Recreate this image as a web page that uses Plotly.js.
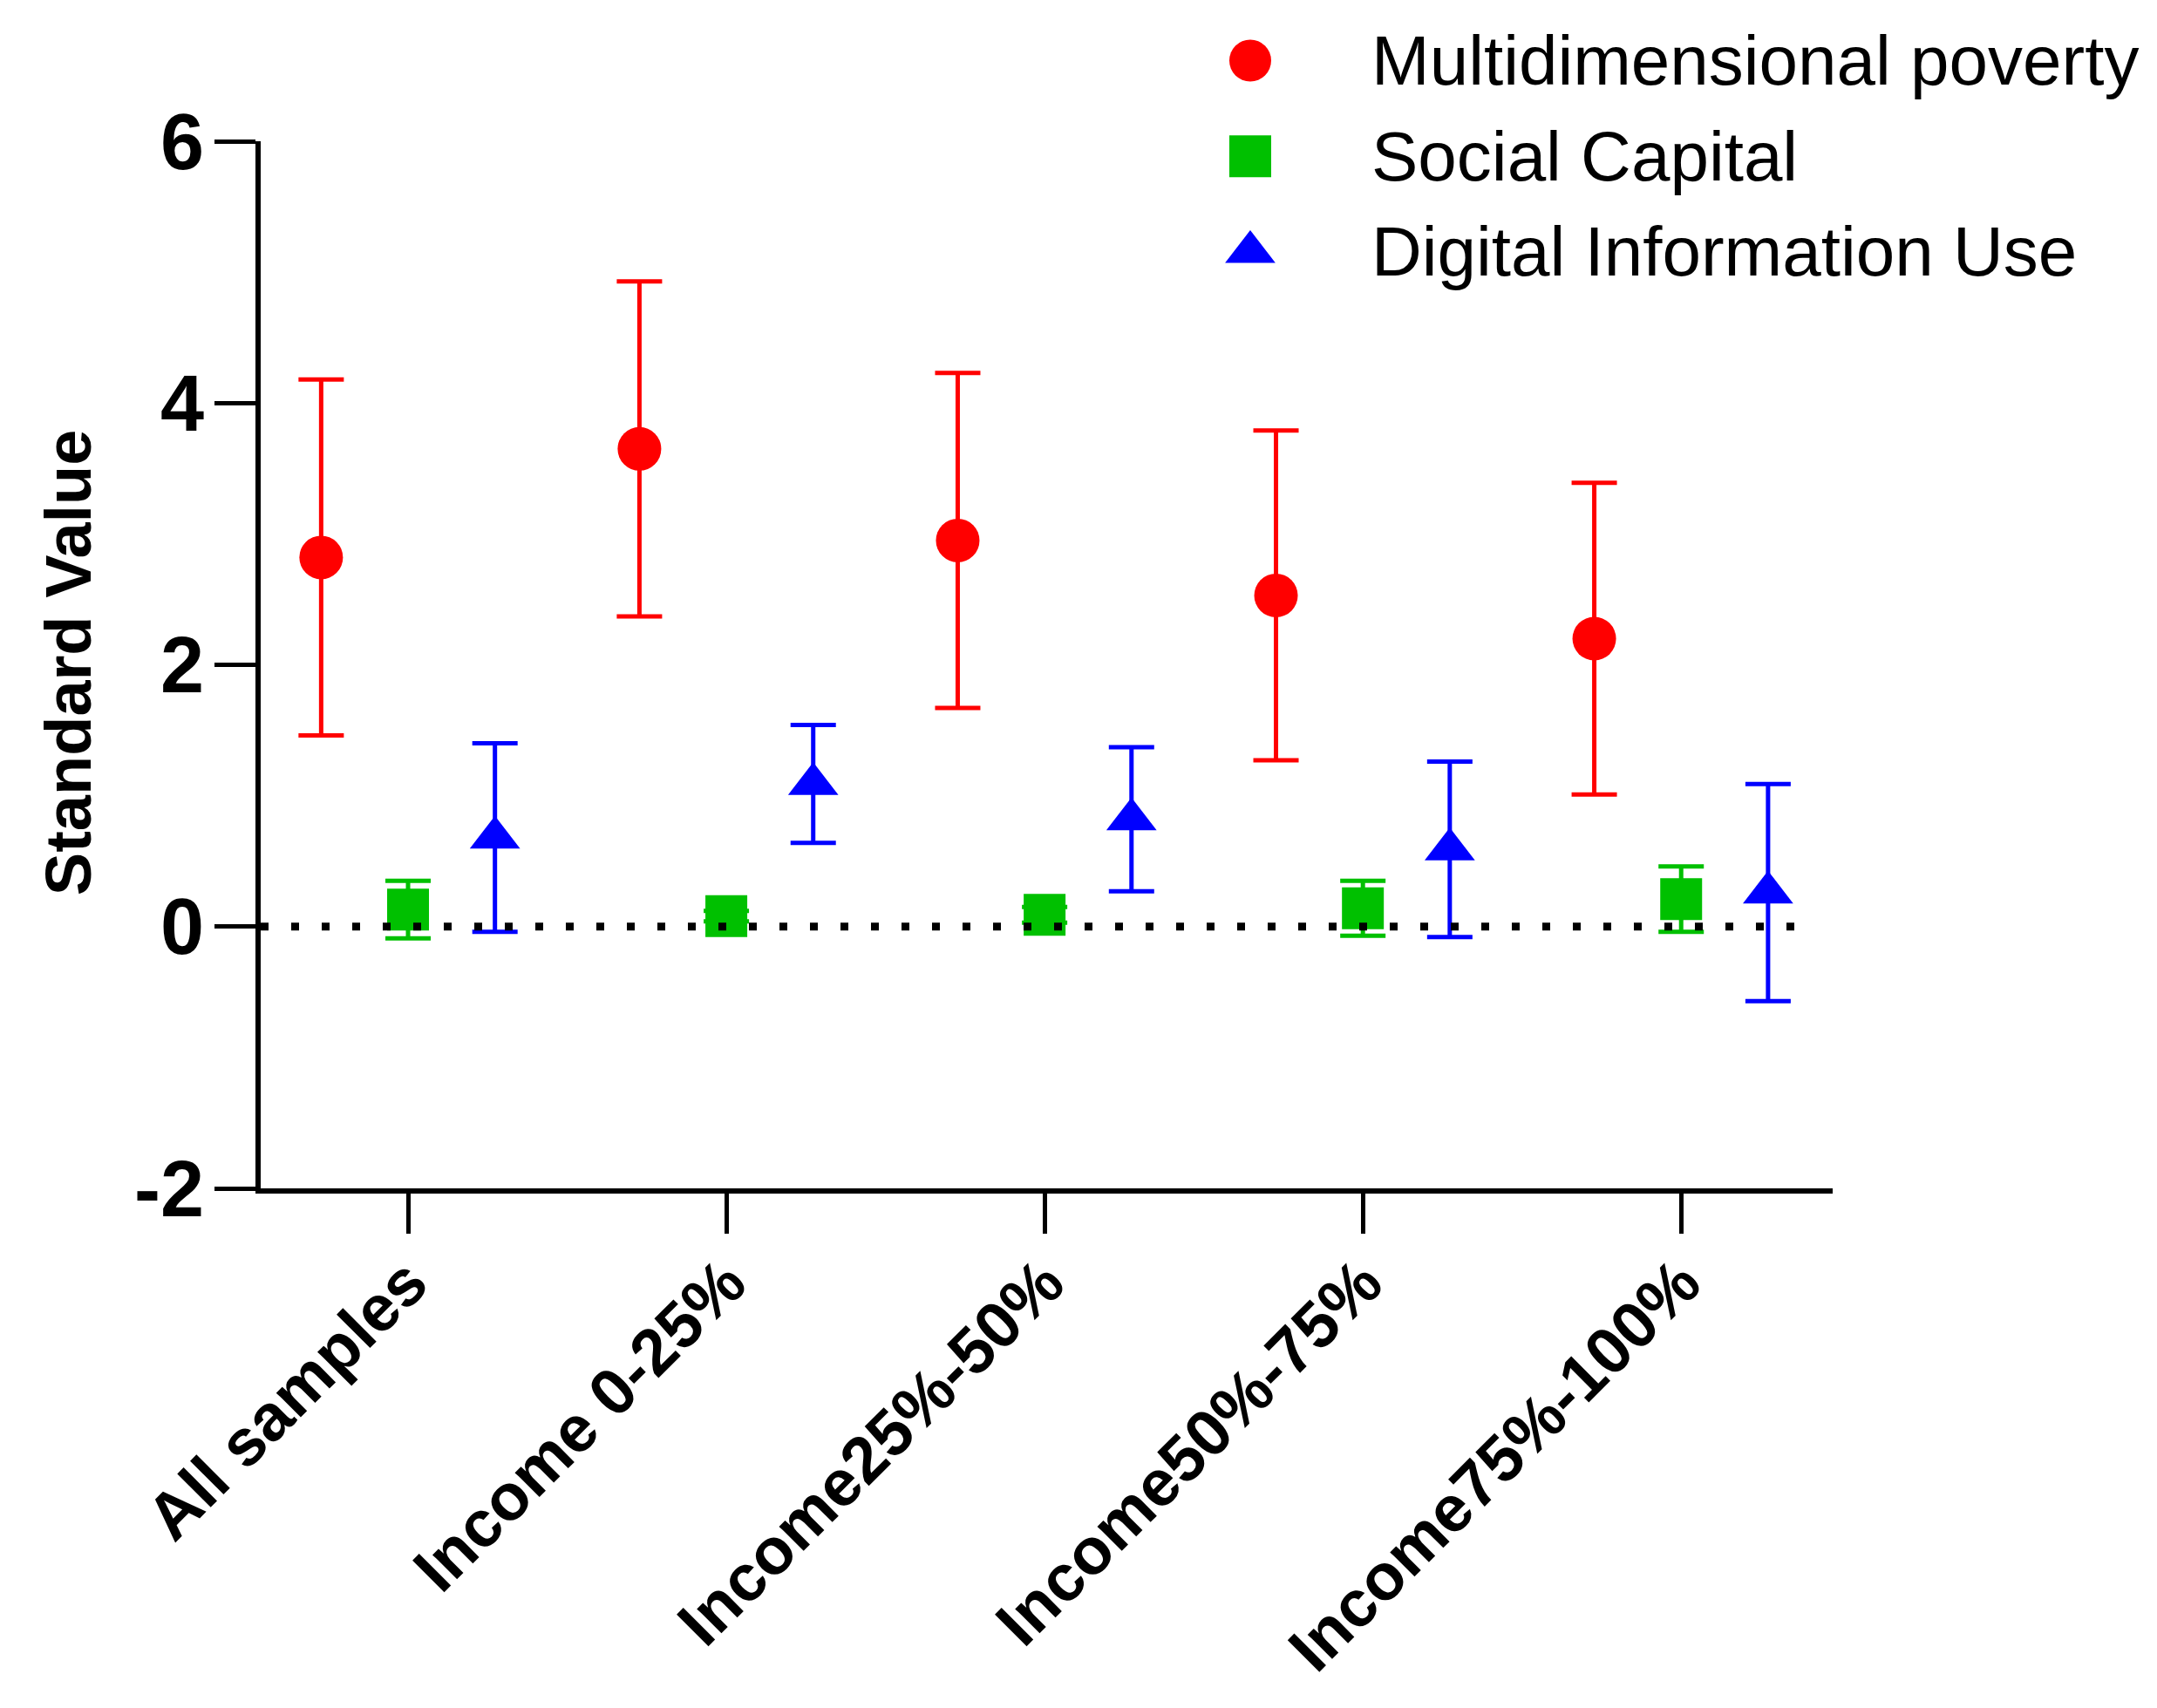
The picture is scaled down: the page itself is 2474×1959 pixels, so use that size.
<!DOCTYPE html>
<html>
<head>
<meta charset="utf-8">
<script src="https://cdn.plot.ly/plotly-3.0.1.min.js"></script>
<style>
  body { margin: 0; background: #fff; }
  #chart { width: 2474px; height: 1959px; }
</style>
</head>
<body>
<div id="chart"></div>
<script>
var categories = ["All samples", "Income 0-25%", "Income25%-50%", "Income50%-75%", "Income75%-100%"];

// means and half-widths of the error bars
var povertyMean = [2.82, 3.65, 2.95, 2.53, 2.20];
var povertyErr = [1.36, 1.28, 1.28, 1.26, 1.19];
var capitalMean = [0.13, 0.08, 0.09, 0.14, 0.21];
var capitalErr = [0.22, 0.04, 0.06, 0.21, 0.25];
var digitalMean = [0.68, 1.09, 0.82, 0.59, 0.26];
var digitalErr = [0.72, 0.45, 0.55, 0.67, 0.83];

var seriesNames = ["Multidimensional poverty", "Social Capital", "Digital Information Use"];
var yTicks = [-2, 0, 2, 4, 6];

var FONT = "Liberation Sans, Arial, sans-serif";
var colors = ["#FF0000", "#00C000", "#0000FF"];
var symbols = ["circle", "square", "triangle-up"];
var sizes = [50, 48, 50];
var offsets = [-0.273, 0, 0.273];

function makeTrace(k, mean, err) {
    return {
        x: categories.map(function(c, i) { return i + offsets[k]; }),
        y: mean,
        type: 'scatter',
        mode: 'markers',
        name: seriesNames[k],
        marker: {
            color: colors[k],
            symbol: symbols[k],
            size: sizes[k],
            opacity: 1,
            line: {width: 0}
        },
        error_y: {
            type: 'data',
            array: err,
            symmetric: true,
            color: colors[k],
            thickness: 5,
            width: 26
        },
        cliponaxis: false,
        showlegend: false,
        hoverinfo: 'skip'
    };
}

// hand-made legend so the symbols keep their real size
var legX = 0.6295, legTextX = 0.7055, legTop = 0.949, legStep = 0.0805;
var legendMarks = {
    x: seriesNames.map(function() { return legX; }),
    y: seriesNames.map(function(n, i) { return legTop - i * legStep; }),
    xaxis: 'x2',
    yaxis: 'y2',
    type: 'scatter',
    mode: 'markers',
    marker: {
        color: colors,
        symbol: symbols,
        size: [48, 48, 50],
        opacity: 1,
        line: {width: 0}
    },
    cliponaxis: false,
    showlegend: false,
    hoverinfo: 'skip'
};

var data = [
    makeTrace(0, povertyMean, povertyErr),
    makeTrace(1, capitalMean, capitalErr),
    makeTrace(2, digitalMean, digitalErr),
    legendMarks
];

var annotations = seriesNames.map(function(n, i) {
    return {
        text: n,
        xref: 'paper', yref: 'paper',
        x: legTextX, y: legTop - i * legStep,
        xanchor: 'left', yanchor: 'middle',
        showarrow: false,
        font: {family: FONT, size: 80, color: '#000'}
    };
});
annotations.push({
    text: "<b>Standard Value</b>",
    xref: 'paper', yref: 'paper',
    x: -0.1226, y: 0.443,
    xanchor: 'center', yanchor: 'middle',
    textangle: -90,
    showarrow: false,
    font: {family: FONT, size: 74, color: '#000'}
});

var layout = {
    width: 2474,
    height: 1959,
    margin: {l: 299, r: 372, t: 0, b: 596},
    paper_bgcolor: '#fff',
    plot_bgcolor: 'rgba(0,0,0,0)',
    showlegend: false,
    xaxis: {
        range: [-0.463, 4.476],
        tickvals: categories.map(function(c, i) { return i; }),
        ticktext: categories,
        tickangle: -45,
        ticks: 'outside',
        ticklen: 46,
        tickwidth: 5,
        tickcolor: '#000',
        ticklabelstandoff: -18,
        showline: true,
        linewidth: 6,
        linecolor: '#000',
        showgrid: false,
        zeroline: false,
        tickfont: {family: FONT, size: 75, color: '#000', weight: 'bold'}
    },
    yaxis: {
        domain: [0, 0.8811],
        range: [-2, 6],
        tickvals: yTicks,
        ticktext: yTicks.map(String),
        ticks: 'outside',
        ticklen: 47,
        tickwidth: 5,
        tickcolor: '#000',
        ticklabelstandoff: -6,
        showline: true,
        linewidth: 6,
        linecolor: '#000',
        showgrid: false,
        zeroline: false,
        tickfont: {family: FONT, size: 90, color: '#000', weight: 'bold'}
    },
    xaxis2: {domain: [0, 1], range: [0, 1], visible: false, anchor: 'y2', fixedrange: true},
    yaxis2: {domain: [0, 1], range: [0, 1], visible: false, anchor: 'x2', fixedrange: true},
    shapes: [{
        type: 'line',
        xref: 'paper', yref: 'y',
        x0: 0, x1: 0.98, y0: 0, y1: 0,
        line: {color: '#000', width: 9, dash: '9px,26px'},
        layer: 'above'
    }],
    annotations: annotations
};

Plotly.newPlot('chart', data, layout, {staticPlot: true});
</script>
</body>
</html>
